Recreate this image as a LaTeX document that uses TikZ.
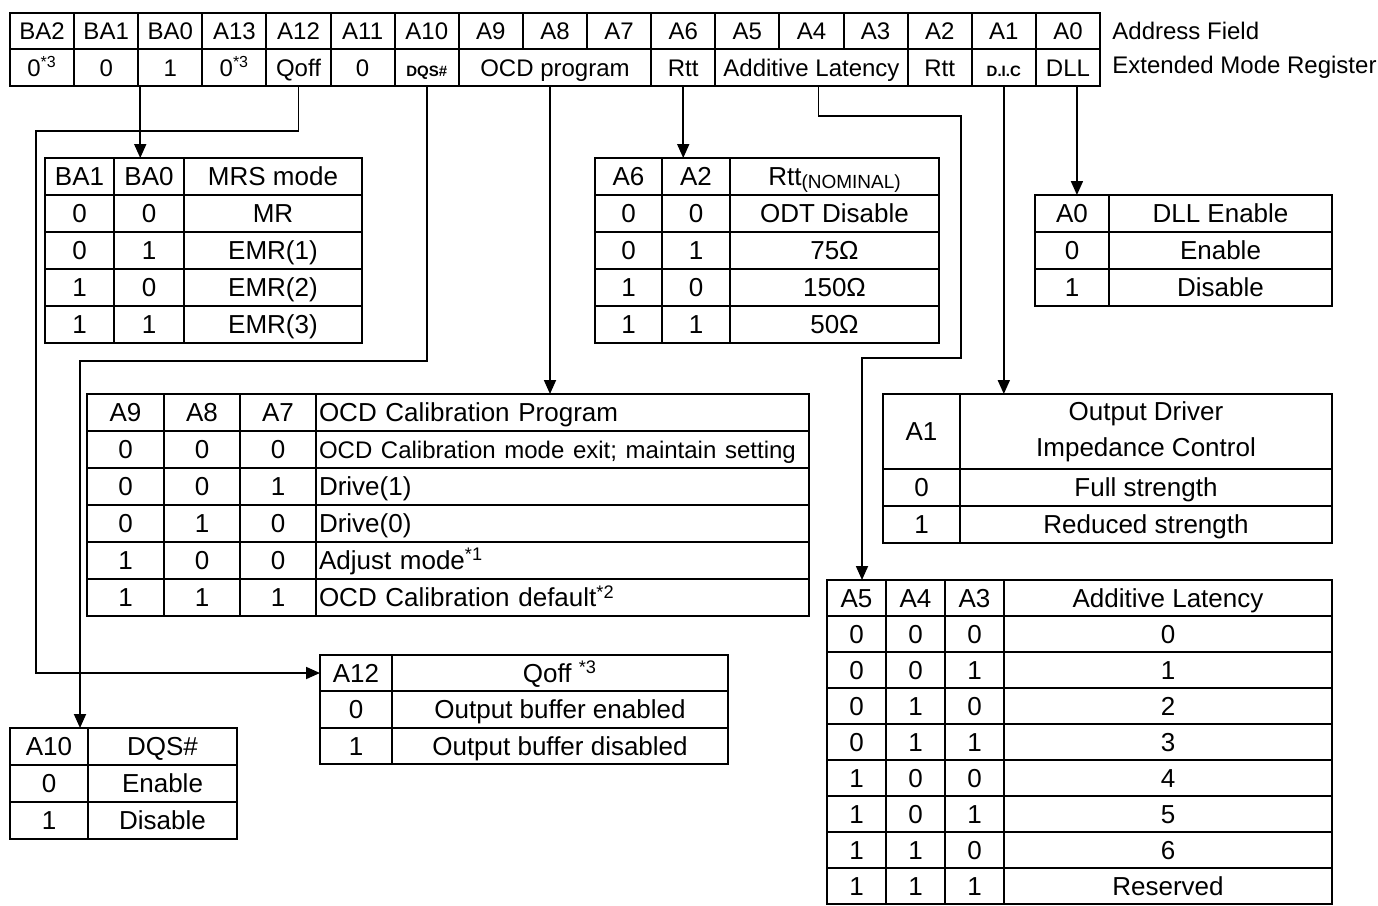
\documentclass[tikz,border=0pt]{standalone}
\usepackage{fontspec}
\setmainfont{Liberation Sans}
\usetikzlibrary{arrows.meta}
\tikzset{
  cell/.style={draw, line width=1pt, inner sep=0pt, outer sep=0pt, align=center,
               font=\fontsize{13}{15}\selectfont, text height=9.6pt, text depth=0.4pt},
  topcell/.style={cell, font=\fontsize{12}{14}\selectfont, text height=8.9pt, text depth=0.4pt},
  mlcell/.style={draw, line width=1pt, inner sep=0pt, outer sep=0pt, align=center,
               font=\fontsize{13}{18}\selectfont},
  conn/.style={line width=0.9pt},
  arr/.style={conn, -{Triangle[length=7pt,width=6pt]}},
  lbl/.style={anchor=west, inner sep=0pt, font=\fontsize{12}{14}\selectfont}
}
% \Cell[style]{name}{x1}{y1}{x2}{y2}{text}
\newcommand\Cell[7][cell]{%
  \pgfmathsetmacro\cellw{(#5-#3)*0.5}%
  \pgfmathsetmacro\cellh{(#6-#4)*0.5}%
  \node[#1,minimum width=\cellw pt,minimum height=\cellh pt] (#2) at ({(#3+#5)/2},{(#4+#6)/2}) {#7};}
% \LCell[font]{name}{x1}{y1}{x2}{y2}{text}  left aligned
\newcommand\LCell[7][\fontsize{13}{15}\selectfont]{%
  \pgfmathsetmacro\cellw{(#5-#3)*0.5}%
  \pgfmathsetmacro\cellh{(#6-#4)*0.5}%
  \pgfmathsetmacro\cellt{\cellw-3}%
  \node[cell,align=left,font=#1,inner xsep=1.5pt,text width=\cellt pt,minimum height=\cellh pt] (#2) at ({(#3+#5)/2},{(#4+#6)/2}) {#7};}
\newcommand\sm[1]{\textbf{\fontsize{7.5}{9}\selectfont #1}}
\begin{document}
\begin{tikzpicture}[x=0.5pt,y=-0.5pt]
\useasboundingbox (0,0) rectangle (1378,906);

% ---------- top register table ----------
\foreach \lab [count=\i from 0] in {BA2,BA1,BA0,A13,A12,A11,A10,A9,A8,A7,A6,A5,A4,A3,A2,A1,A0} {
  \pgfmathsetmacro\xa{10+\i*64.1176}
  \pgfmathsetmacro\xb{10+(\i+1)*64.1176}
  \Cell[topcell]{a-\lab}{\xa}{13}{\xb}{49}{\lab}
}
\Cell[topcell]{v-BA2}{10}{49}{74.12}{86}{0\textsuperscript{*3}}
\Cell[topcell]{v-BA1}{74.12}{49}{138.24}{86}{0}
\Cell[topcell]{v-BA0}{138.24}{49}{202.35}{86}{1}
\Cell[topcell]{v-A13}{202.35}{49}{266.47}{86}{0\textsuperscript{*3}}
\Cell[topcell]{v-A12}{266.47}{49}{330.59}{86}{Qoff}
\Cell[topcell]{v-A11}{330.59}{49}{394.71}{86}{0}
\Cell[topcell]{v-A10}{394.71}{49}{458.82}{86}{\sm{DQS\#}}
\Cell[topcell]{v-OCD}{458.82}{49}{651.18}{86}{OCD program}
\Cell[topcell]{v-Rtt1}{651.18}{49}{715.29}{86}{Rtt}
\Cell[topcell]{v-AL}{715.29}{49}{907.65}{86}{Additive Latency}
\Cell[topcell]{v-Rtt2}{907.65}{49}{971.76}{86}{Rtt}
\Cell[topcell]{v-DIC}{971.76}{49}{1035.88}{86}{\sm{D.I.C}}
\Cell[topcell]{v-DLL}{1035.88}{49}{1100}{86}{DLL}
\node[lbl] (lab1) at (1112,31) {Address Field};
\node[lbl] (lab2) at (1112,67.5) {Extended Mode Register};

% ---------- MRS mode table ----------
\Cell{m-h1}{45}{158}{114}{195}{BA1}
\Cell{m-h2}{114}{158}{184}{195}{BA0}
\Cell{m-h3}{184}{158}{362}{195}{MRS mode}
\foreach \a/\b/\c [count=\r] in {0/0/MR,0/1/EMR(1),1/0/EMR(2),1/1/EMR(3)} {
  \pgfmathsetmacro\ya{158+\r*37}\pgfmathsetmacro\yb{158+(\r+1)*37}
  \Cell{m-\r a}{45}{\ya}{114}{\yb}{\a}
  \Cell{m-\r b}{114}{\ya}{184}{\yb}{\b}
  \Cell{m-\r c}{184}{\ya}{362}{\yb}{\c}
}

% ---------- Rtt table ----------
\Cell{r-h1}{595}{158}{662}{195}{A6}
\Cell{r-h2}{662}{158}{730}{195}{A2}
\Cell{r-h3}{730}{158}{939}{195}{Rtt\raisebox{-1.5pt}{\fontsize{9.5}{11}\selectfont(NOMINAL)}}
\foreach \a/\b/\c [count=\r] in {0/0/ODT Disable,0/1/75Ω,1/0/150Ω,1/1/50Ω} {
  \pgfmathsetmacro\ya{158+\r*37}\pgfmathsetmacro\yb{158+(\r+1)*37}
  \Cell{r-\r a}{595}{\ya}{662}{\yb}{\a}
  \Cell{r-\r b}{662}{\ya}{730}{\yb}{\b}
  \Cell{r-\r c}{730}{\ya}{939}{\yb}{\c}
}

% ---------- DLL table ----------
\Cell{dl-h1}{1035}{195}{1109}{232}{A0}
\Cell{dl-h2}{1109}{195}{1332}{232}{DLL Enable}
\Cell{dl-1a}{1035}{232}{1109}{269}{0}
\Cell{dl-1b}{1109}{232}{1332}{269}{Enable}
\Cell{dl-2a}{1035}{269}{1109}{306}{1}
\Cell{dl-2b}{1109}{269}{1332}{306}{Disable}

% ---------- OCD table ----------
\Cell{o-h1}{87}{394}{164}{431}{A9}
\Cell{o-h2}{164}{394}{240}{431}{A8}
\Cell{o-h3}{240}{394}{316}{431}{A7}
\LCell{o-h4}{316}{394}{809}{431}{OCD Calibration Program}
\foreach \a/\b/\c/\t [count=\r] in {0/0/0/{\fontsize{12}{14}\selectfont OCD Calibration mode exit; maintain setting},
    0/0/1/Drive(1),0/1/0/Drive(0),1/0/0/{Adjust mode\textsuperscript{*1}},1/1/1/{OCD Calibration default\textsuperscript{*2}}} {
  \pgfmathsetmacro\ya{394+\r*37}\pgfmathsetmacro\yb{394+(\r+1)*37}
  \Cell{o-\r a}{87}{\ya}{164}{\yb}{\a}
  \Cell{o-\r b}{164}{\ya}{240}{\yb}{\b}
  \Cell{o-\r c}{240}{\ya}{316}{\yb}{\c}
  \LCell{o-\r d}{316}{\ya}{809}{\yb}{\t}
}

% ---------- Output driver table ----------
\Cell{i-h1}{883}{394}{960}{469}{A1}
\Cell[mlcell]{i-h2}{960}{394}{1332}{469}{Output Driver\\Impedance Control}
\Cell{i-1a}{883}{469}{960}{506}{0}
\Cell{i-1b}{960}{469}{1332}{506}{Full strength}
\Cell{i-2a}{883}{506}{960}{543}{1}
\Cell{i-2b}{960}{506}{1332}{543}{Reduced strength}

% ---------- Additive latency table ----------
\Cell{l-h1}{827}{580}{886}{616}{A5}
\Cell{l-h2}{886}{580}{945}{616}{A4}
\Cell{l-h3}{945}{580}{1004}{616}{A3}
\Cell{l-h4}{1004}{580}{1332}{616}{Additive Latency}
\foreach \a/\b/\c/\t [count=\r] in {0/0/0/0,0/0/1/1,0/1/0/2,0/1/1/3,1/0/0/4,1/0/1/5,1/1/0/6,1/1/1/Reserved} {
  \pgfmathsetmacro\ya{580+\r*36}\pgfmathsetmacro\yb{580+(\r+1)*36}
  \Cell{l-\r a}{827}{\ya}{886}{\yb}{\a}
  \Cell{l-\r b}{886}{\ya}{945}{\yb}{\b}
  \Cell{l-\r c}{945}{\ya}{1004}{\yb}{\c}
  \Cell{l-\r d}{1004}{\ya}{1332}{\yb}{\t}
}

% ---------- Qoff table ----------
\Cell{q-h1}{320}{655}{392}{691}{A12}
\Cell{q-h2}{392}{655}{728}{691}{Qoff \textsuperscript{*3}}
\Cell{q-1a}{320}{691}{392}{728}{0}
\Cell{q-1b}{392}{691}{728}{728}{Output buffer enabled}
\Cell{q-2a}{320}{728}{392}{764}{1}
\Cell{q-2b}{392}{728}{728}{764}{Output buffer disabled}

% ---------- DQS table ----------
\Cell{d-h1}{10}{728}{88}{765}{A10}
\Cell{d-h2}{88}{728}{237}{765}{DQS\#}
\Cell{d-1a}{10}{765}{88}{802}{0}
\Cell{d-1b}{88}{765}{237}{802}{Enable}
\Cell{d-2a}{10}{802}{88}{839}{1}
\Cell{d-2b}{88}{802}{237}{839}{Disable}

% ---------- connectors ----------
\coordinate (qbend) at (36,131);
\coordinate (dbend) at (80,361);
\coordinate (al1) at (961,116);
\coordinate (al2) at (862,358);
\draw[arr] ([xshift=1pt]v-BA1.south east) -- ([xshift=1pt]v-BA1.south east |- m-h2.north);
\draw[arr] (v-A12.south) |- (qbend) |- (q-h1.west);
\draw[arr] (v-A10.south) |- (dbend) -- (dbend |- d-h1.north);
\draw[arr] ([xshift=-2.5pt]v-OCD.south) -- ([xshift=-2.5pt]v-OCD.south |- o-h4.north);
\draw[arr] (v-Rtt1.south) -- (v-Rtt1.south |- r-h2.north);
\draw[arr] ([xshift=3.5pt]v-AL.south) |- (al1) |- (al2) -- (al2 |- l-h1.north);
\draw[arr] (v-DIC.south) -- (v-DIC.south |- i-h2.north);
\draw[arr] ([xshift=4.5pt]v-DLL.south) -- ([xshift=4.5pt]v-DLL.south |- dl-h1.north);
\end{tikzpicture}
\end{document}
